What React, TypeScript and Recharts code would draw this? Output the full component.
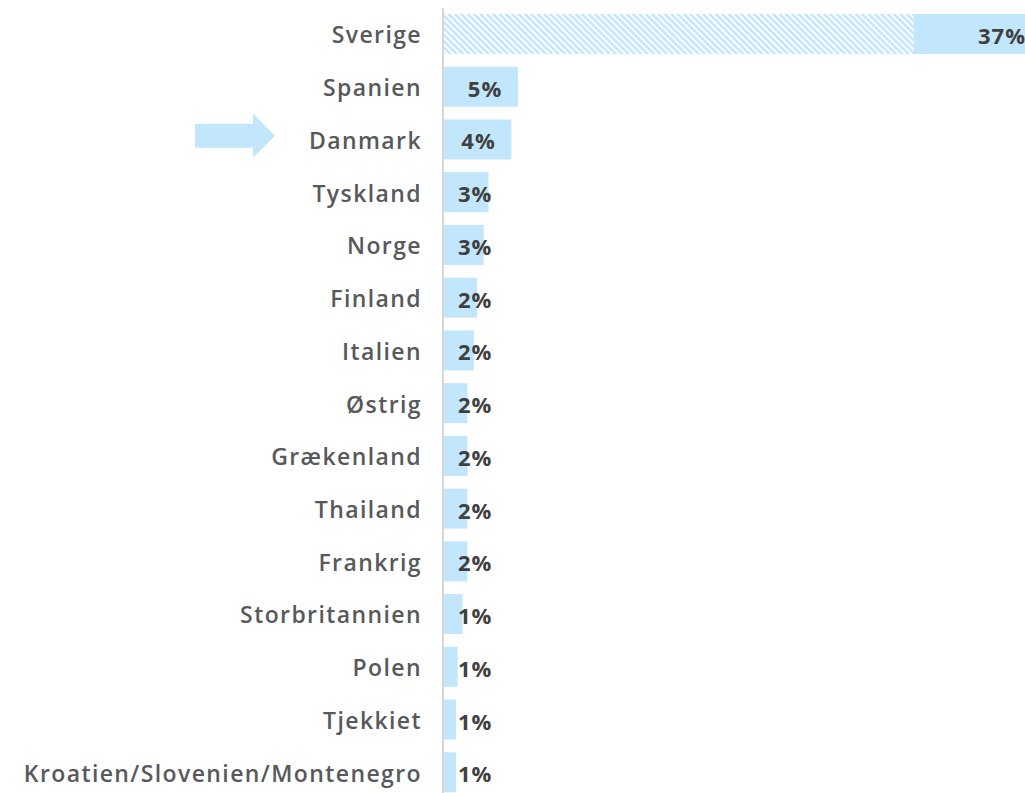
import React from "react"
import { BarChart, Bar, XAxis, YAxis, LabelList } from "recharts"

const countries = [
  "Sverige",
  "Spanien",
  "Danmark",
  "Tyskland",
  "Norge",
  "Finland",
  "Italien",
  "Østrig",
  "Grækenland",
  "Thailand",
  "Frankrig",
  "Storbritannien",
  "Polen",
  "Tjekkiet",
  "Kroatien/Slovenien/Montenegro",
]

const shares = [37, 4.6, 4.2, 2.8, 2.5, 2.1, 1.9, 1.5, 1.5, 1.5, 1.5, 1.2, 0.9, 0.8, 0.8]

const shareLabels = ["37%", "5%", "4%", "3%", "3%", "2%", "2%", "2%", "2%", "2%", "2%", "1%", "1%", "1%", "1%"]

const hatchedCountries = ["Sverige"]
const highlighted = "Danmark"

const data = countries.map((name, i) => ({
  name,
  value: shares[i],
  label: shareLabels[i],
  hatched: hatchedCountries.includes(name),
}))

const BAR_COLOR = "#c2e6fc"
const FONT = "'Open Sans', 'DejaVu Sans', sans-serif"

function BarShape(props: any) {
  const { x, y, width, height, payload } = props
  if (!payload.hatched) {
    return <rect x={x} y={y} width={width} height={height} fill={BAR_COLOR} />
  }
  const solid = 131
  return (
    <g>
      <defs>
        <pattern
          id="hatch"
          width="4.5"
          height="4.5"
          patternUnits="userSpaceOnUse"
          patternTransform="rotate(-45)"
        >
          <rect x="0" y="0" width="2.5" height="4.5" fill={BAR_COLOR} />
        </pattern>
      </defs>
      <rect x={x} y={y} width={width} height={height} fill="url(#hatch)" />
      <rect x={x + width - solid} y={y} width={solid} height={height} fill={BAR_COLOR} />
    </g>
  )
}

function ValueLabel(props: any) {
  const { x, y, width, height, value } = props
  const text = String(value)
  const textWidth = text.length * 17
  const left = Math.max(x + 15, x + width - 16 - textWidth)
  return (
    <text
      x={left}
      y={y + height / 2 + 1}
      dominantBaseline="central"
      fill="#404040"
      fontFamily={FONT}
      fontWeight={700}
      fontSize={22}
      letterSpacing={1}
    >
      {text}
    </text>
  )
}

function CountryTick(props: any) {
  const { x, y, payload } = props
  const isHl = payload.value === highlighted
  return (
    <g>
      {isHl && (
        <polygon
          transform={`translate(${x - 227}, ${y - 4})`}
          points="0,-12 58,-12 58,-22 80,0 58,22 58,12 0,12"
          fill={BAR_COLOR}
        />
      )}
      <text
        x={x}
        y={y}
        textAnchor="end"
        dominantBaseline="central"
        fill="#58595b"
        fontFamily={FONT}
        fontWeight={600}
        fontSize={23}
        letterSpacing={1.4}
      >
        {payload.value}
      </text>
    </g>
  )
}

export default function App() {
  return (
    <div
      style={{
        position: "fixed",
        left: 0,
        top: 0,
        width: 1025,
        height: 793,
        overflow: "hidden",
        background: "#fff",
      }}
    >
      <div style={{ position: "absolute", left: 8, top: 8 }}>
        <BarChart
          width={1037}
          height={791}
          data={data}
          layout="vertical"
          margin={{ top: 0, right: 0, bottom: 0, left: 0 }}
        >
          <XAxis type="number" domain={[0, 37]} hide />
          <YAxis
            type="category"
            dataKey="name"
            width={435}
            tickLine={false}
            tickSize={0}
            tickMargin={21}
            axisLine={{ stroke: "#d6d6d6", strokeWidth: 2 }}
            tick={<CountryTick />}
            interval={0}
          />
          <Bar dataKey="value" barSize={40} shape={<BarShape />} isAnimationActive={false}>
            <LabelList dataKey="label" content={<ValueLabel />} />
          </Bar>
        </BarChart>
      </div>
    </div>
  )
}
